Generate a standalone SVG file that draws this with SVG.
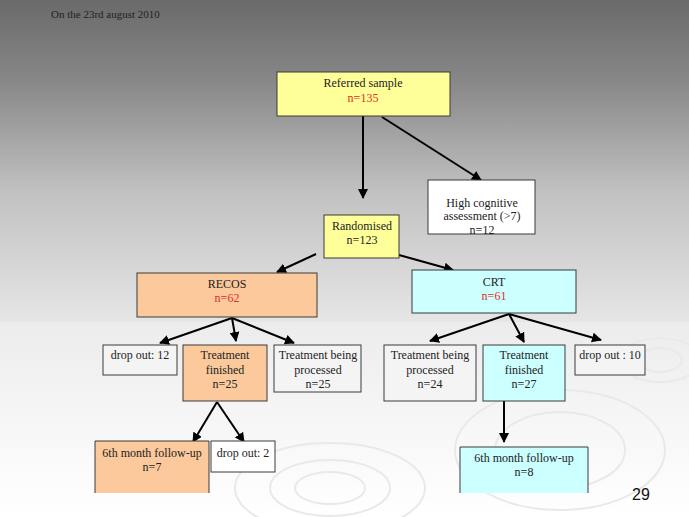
<svg xmlns="http://www.w3.org/2000/svg" width="689" height="517" viewBox="0 0 689 517" font-family="'Liberation Serif', 'Times New Roman', serif">
<defs>
<linearGradient id="bgTop" x1="0" y1="0" x2="0" y2="1">
<stop offset="0" stop-color="#6a6a6a"/>
<stop offset="0.25" stop-color="#878787"/>
<stop offset="0.6" stop-color="#c2c2c2"/>
<stop offset="1" stop-color="#e6e6e6"/>
</linearGradient>
<linearGradient id="bgBot" x1="0" y1="0" x2="0" y2="1">
<stop offset="0" stop-color="#ececec"/>
<stop offset="0.5" stop-color="#f6f6f6"/>
<stop offset="1" stop-color="#ffffff"/>
</linearGradient>
<marker id="ah" viewBox="0 0 10 10" refX="9" refY="5" markerWidth="5" markerHeight="5" orient="auto" markerUnits="strokeWidth">
<path d="M0,0 L10,5 L0,10 z" fill="#000"/>
</marker>
</defs>
<style>
.box{stroke:#3a3a3a;stroke-width:1}
.yel{fill:#ffff99}
.pch{fill:#fbc99b}
.cyn{fill:#ccffff}
.wht{fill:#ffffff}
.lgt{fill:#f4f4f4}
.t{font-family:'Liberation Serif','Times New Roman',serif;font-size:12px;fill:#222;text-anchor:middle}
.red{fill:#e03020}
.con line{stroke:#000;stroke-width:2;marker-end:url(#ah)}
.rip{fill:none;stroke:#e9e9e9;stroke-width:2}
</style>
<rect x="0" y="0" width="689" height="322" fill="url(#bgTop)"/>
<rect x="0" y="322" width="689" height="195" fill="url(#bgBot)"/>
<g id="ripples">
<ellipse class="rip" cx="330" cy="488" rx="35" ry="16"/>
<ellipse class="rip" cx="330" cy="488" rx="60" ry="28"/>
<ellipse class="rip" cx="330" cy="488" rx="95" ry="45"/>
<ellipse class="rip" cx="560" cy="450" rx="65" ry="38"/>
<ellipse class="rip" cx="560" cy="450" rx="105" ry="60"/>
<ellipse class="rip" cx="660" cy="360" rx="22" ry="12"/>
<ellipse class="rip" cx="660" cy="360" rx="40" ry="22"/>
</g>
<text class="t" x="51" y="18" style="text-anchor:start;font-size:11px">On the 23rd august 2010</text>
<g class="con">
<line x1="363" y1="116" x2="363" y2="198"/>
<line x1="382" y1="117" x2="481" y2="180"/>
<line x1="316" y1="254" x2="277" y2="272"/>
<line x1="399" y1="255" x2="453" y2="270"/>
<line x1="232" y1="318" x2="160" y2="343"/>
<line x1="232" y1="318" x2="236" y2="341"/>
<line x1="232" y1="318" x2="294" y2="343"/>
<line x1="509" y1="314" x2="430" y2="341"/>
<line x1="509" y1="314" x2="524" y2="342"/>
<line x1="509" y1="314" x2="601" y2="340"/>
<line x1="217" y1="402" x2="193" y2="442"/>
<line x1="217" y1="402" x2="244" y2="442"/>
<line x1="504" y1="401" x2="504" y2="442"/>
</g>
<g id="referred"><rect class="box yel" x="277" y="72" width="173" height="44"/><text class="t" x="363" y="87">Referred sample</text><text class="t red" x="363" y="102">n=135</text></g>
<g id="highcog"><rect class="box wht" x="428" y="180" width="107" height="54"/><text class="t" x="482" y="207">High cognitive</text><text class="t" x="482" y="220">assessment (&gt;7)</text><text class="t" x="482" y="234">n=12</text></g>
<g id="randomised"><rect class="box yel" x="324" y="215" width="75" height="43"/><text class="t" x="362" y="230">Randomised</text><text class="t" x="362" y="244">n=123</text></g>
<g id="recos"><rect class="box pch" x="137" y="273" width="180" height="44"/><text class="t" x="227" y="288">RECOS</text><text class="t red" x="227" y="302">n=62</text></g>
<g id="crt"><rect class="box cyn" x="412" y="270" width="164" height="43"/><text class="t" x="494" y="286">CRT</text><text class="t red" x="494" y="300">n=61</text></g>
<g id="recos-drop"><rect class="box lgt" x="103" y="345" width="74" height="30"/><text class="t" x="140" y="359">drop out:  12</text></g>
<g id="recos-fin"><rect class="box pch" x="183" y="345" width="84" height="56"/><text class="t" x="225" y="359">Treatment</text><text class="t" x="225" y="374">finished</text><text class="t" x="225" y="388">n=25</text></g>
<g id="recos-proc"><rect class="box lgt" x="274" y="345" width="87" height="47"/><text class="t" x="318" y="359">Treatment being</text><text class="t" x="318" y="374">processed</text><text class="t" x="318" y="388">n=25</text></g>
<g id="crt-proc"><rect class="box lgt" x="384" y="345" width="92" height="56"/><text class="t" x="430" y="359">Treatment being</text><text class="t" x="430" y="374">processed</text><text class="t" x="430" y="388">n=24</text></g>
<g id="crt-fin"><rect class="box cyn" x="483" y="345" width="82" height="56"/><text class="t" x="524" y="359">Treatment</text><text class="t" x="524" y="374">finished</text><text class="t" x="524" y="388">n=27</text></g>
<g id="crt-drop"><rect class="box lgt" x="575" y="345" width="70" height="30"/><text class="t" x="610" y="359">drop out : 10</text></g>
<g id="recos-fu"><rect class="pch" x="95" y="441" width="114" height="52"/><path d="M95,493 V441 H209 V493" fill="none" stroke="#3a3a3a"/><text class="t" x="152" y="457">6th month follow-up</text><text class="t" x="152" y="471">n=7</text></g>
<g id="recos-drop2"><rect class="box wht" x="211" y="441" width="64" height="31"/><text class="t" x="243" y="457">drop out: 2</text></g>
<g id="crt-fu"><rect class="cyn" x="460" y="447" width="128" height="46"/><path d="M460,493 V447 H588 V493" fill="none" stroke="#3a3a3a"/><text class="t" x="524" y="462">6th month follow-up</text><text class="t" x="524" y="476">n=8</text></g>
<text x="641" y="500" style="font-family:'Liberation Sans',Arial,sans-serif;font-size:16px;fill:#111;text-anchor:middle">29</text>
</svg>
